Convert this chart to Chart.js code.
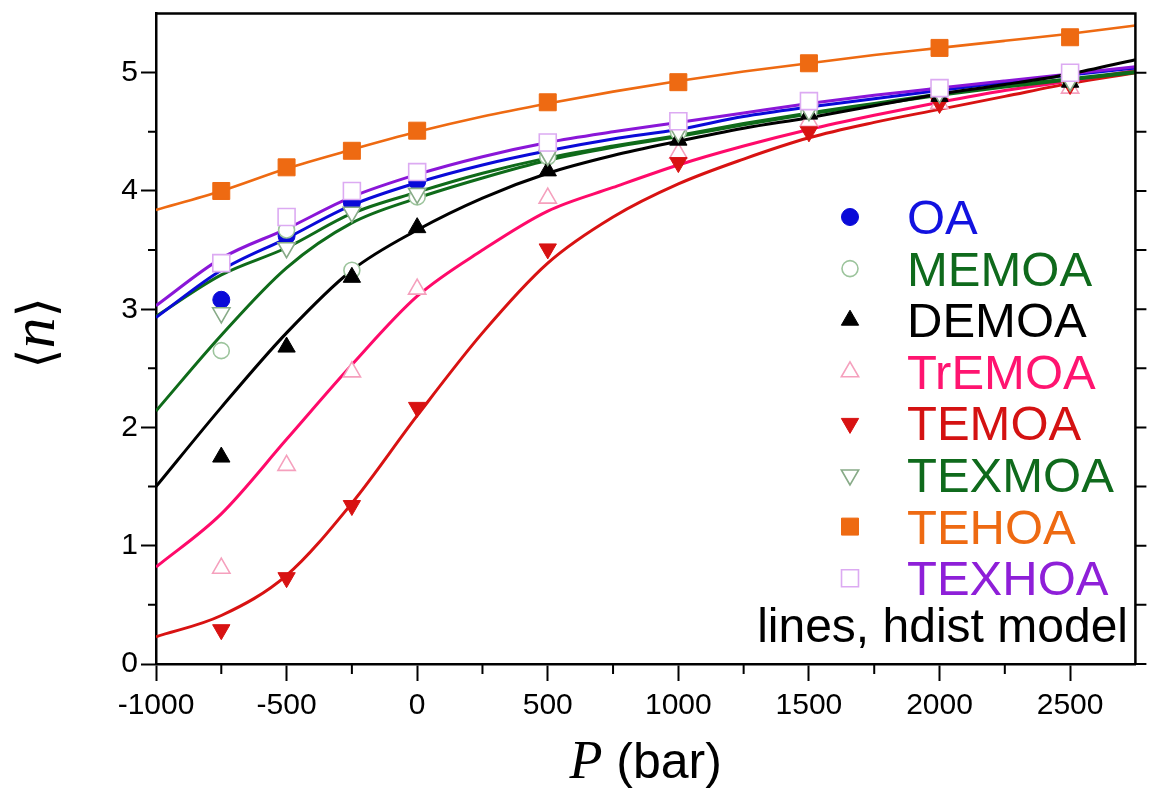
<!DOCTYPE html>
<html>
<head>
<meta charset="utf-8">
<title>Mean hydration number vs pressure</title>
<script src="https://cdn.jsdelivr.net/npm/chart.js@4.4.1/dist/chart.umd.min.js"></script>
<style>
  html, body { margin: 0; padding: 0; background: #fff; }
  #wrap { width: 1149px; height: 788px; }
</style>
</head>
<body>
<div id="wrap"><canvas id="nChart" width="1149" height="788"></canvas></div>
<script>
// pressures (bar) of the simulation points
const P_SIM = [-750, -500, -250, 0, 500, 1000, 1500, 2000, 2500];
// pressures (bar) where the hdist model curves are sampled
const P_MODEL = [-1000, -750, -500, -250, 0, 250, 500, 750, 1000, 1250, 1500, 1750, 2000, 2250, 2500, 2750];

const X_TICKS = [-1000, -500, 0, 500, 1000, 1500, 2000, 2500];
const X_MINOR = [-750, -250, 250, 750, 1250, 1750, 2250];
const Y_TICKS = [0, 1, 2, 3, 4, 5];
const Y_MINOR = [0.5, 1.5, 2.5, 3.5, 4.5];

// simulated <n>
const OA_P = [-750, -500, -250, 0];
const OA_N = [3.08, 3.62, 3.90, 4.08];
const MEMOA_N = [2.65, 3.67, 3.33, 3.95, 4.29, 4.50, 4.67, 4.82, 4.93];
const DEMOA_N = [1.75, 2.68, 3.27, 3.69, 4.17, 4.43, 4.65, 4.80, 4.92];
const TREMOA_N = [0.81, 1.68, 2.47, 3.17, 3.94, 4.32, 4.59, 4.74, 4.87];
const TEMOA_N = [0.29, 0.73, 1.34, 2.17, 3.51, 4.24, 4.50, 4.74, 4.90];
const TEXMOA_N = [2.97, 3.52, 3.82, 3.98, 4.30, 4.50, 4.68, 4.83, 4.93];
const TEHOA_N = [4.00, 4.20, 4.34, 4.51, 4.75, 4.92, 5.08, 5.21, 5.30];
const TEXHOA_N = [3.39, 3.78, 4.00, 4.16, 4.41, 4.59, 4.76, 4.87, 5.00];

// hdist model <n>
const OA_FIT = [2.93, 3.33, 3.60, 3.88, 4.07, 4.22, 4.34, 4.44, 4.52, 4.63, 4.71, 4.78, 4.85, 4.92, 4.98, 5.04];
const MEMOA_FIT = [2.14, 2.78, 3.35, 3.73, 3.94, 4.11, 4.26, 4.37, 4.46, 4.56, 4.65, 4.73, 4.81, 4.88, 4.94, 5.00];
const DEMOA_FIT = [1.50, 2.17, 2.80, 3.33, 3.67, 3.94, 4.15, 4.30, 4.42, 4.53, 4.62, 4.72, 4.82, 4.90, 4.99, 5.11];
const TREMOA_FIT = [0.82, 1.27, 1.90, 2.53, 3.11, 3.50, 3.83, 4.03, 4.22, 4.38, 4.52, 4.64, 4.75, 4.85, 4.93, 5.02];
const TEMOA_FIT = [0.23, 0.41, 0.75, 1.36, 2.10, 2.80, 3.39, 3.78, 4.06, 4.27, 4.45, 4.58, 4.69, 4.80, 4.91, 5.00];
const TEXMOA_FIT = [2.94, 3.29, 3.52, 3.81, 3.99, 4.15, 4.28, 4.38, 4.47, 4.57, 4.66, 4.74, 4.82, 4.89, 4.95, 5.01];
const TEHOA_FIT = [3.84, 4.00, 4.19, 4.35, 4.50, 4.63, 4.74, 4.84, 4.93, 5.01, 5.08, 5.15, 5.21, 5.27, 5.33, 5.40];
const TEXHOA_FIT = [3.03, 3.43, 3.68, 3.95, 4.14, 4.29, 4.41, 4.50, 4.58, 4.66, 4.74, 4.81, 4.87, 4.93, 4.99, 5.05];

const pts = (xs, ys) => xs.map((x, i) => ({ x, y: ys[i] }));

// name, text/line colour, marker style, points, model curve
const SERIES = [
  { name: 'OA',     color: '#1212e0', line: '#0a0ad8', style: 'circle',   rot: 0,   r: 8.5, fill: '#0a0ad8', edge: '#0a0ad8', px: OA_P, n: OA_N, fit: OA_FIT },
  { name: 'MEMOA',  color: '#0f6a1c', line: '#0f6b1a', style: 'circle',   rot: 0,   r: 8,   fill: '#ffffff', edge: '#9cc49c', px: P_SIM, n: MEMOA_N, fit: MEMOA_FIT },
  { name: 'DEMOA',  color: '#000000', line: '#000000', style: 'triangle', rot: 0,   r: 10,  fill: '#000000', edge: '#000000', px: P_SIM, n: DEMOA_N, fit: DEMOA_FIT },
  { name: 'TrEMOA', color: '#ff1470', line: '#ff0a6a', style: 'triangle', rot: 0,   r: 10,  fill: '#ffffff', edge: '#f5a0bd', px: P_SIM, n: TREMOA_N, fit: TREMOA_FIT },
  { name: 'TEMOA',  color: '#d41212', line: '#d81212', style: 'triangle', rot: 180, r: 10,  fill: '#d81212', edge: '#d81212', px: P_SIM, n: TEMOA_N, fit: TEMOA_FIT },
  { name: 'TEXMOA', color: '#0f6a1c', line: '#0f6b1a', style: 'triangle', rot: 180, r: 10,  fill: '#ffffff', edge: '#88ab88', px: P_SIM, n: TEXMOA_N, fit: TEXMOA_FIT },
  { name: 'TEHOA',  color: '#ee6a12', line: '#ee6a12', style: 'rect',     rot: 0,   r: 12,  fill: '#ee6a12', edge: '#ee6a12', px: P_SIM, n: TEHOA_N, fit: TEHOA_FIT },
  { name: 'TEXHOA', color: '#8e1fd8', line: '#8a16d8', style: 'rect',     rot: 0,   r: 12,  fill: '#ffffff', edge: '#dcaaf2', px: P_SIM, n: TEXHOA_N, fit: TEXHOA_FIT }
];

// marker stacking, lowest order drawn on top
const MARK_ORDER = { OA: 8, MEMOA: 7, TrEMOA: 6, TEMOA: 5, DEMOA: 4, TEXMOA: 3, TEHOA: 2, TEXHOA: 1 };
const LINE_ORDER = { TEMOA: 28, TrEMOA: 27, MEMOA: 26, TEXMOA: 25, OA: 24, TEXHOA: 23, DEMOA: 22, TEHOA: 21 };

const datasets = [];
SERIES.forEach(s => {
  datasets.push({
    label: s.name + ' model',
    data: pts(P_MODEL, s.fit),
    showLine: true,
    borderColor: s.line,
    borderWidth: s.name === 'TEHOA' ? 2.6 : 3,
    pointRadius: 0,
    fill: false,
    cubicInterpolationMode: 'monotone',
    order: LINE_ORDER[s.name]
  });
  datasets.push({
    label: s.name,
    data: pts(s.px, s.n),
    showLine: false,
    pointStyle: s.style,
    pointRotation: s.rot,
    pointRadius: s.r,
    pointBackgroundColor: s.fill,
    pointBorderColor: s.edge,
    pointBorderWidth: s.fill === '#ffffff' ? 1.6 : 1,
    order: MARK_ORDER[s.name]
  });
});

const SANS = "'Liberation Sans', Arial, sans-serif";

// frame, minor ticks, axis titles and the legend box
const decorations = {
  id: 'decorations',
  afterDraw(chart) {
    const { ctx, chartArea: a, scales: { x, y } } = chart;
    ctx.save();
    ctx.strokeStyle = '#000';
    ctx.lineWidth = 2.5;
    ctx.beginPath();
    ctx.moveTo(a.left, a.top);
    ctx.lineTo(a.right, a.top);
    ctx.lineTo(a.right, a.bottom);
    ctx.stroke();

    ctx.lineWidth = 2;
    ctx.beginPath();
    X_MINOR.forEach(v => {
      const px = x.getPixelForValue(v);
      ctx.moveTo(px, a.bottom); ctx.lineTo(px, a.bottom + 10);
    });
    Y_MINOR.forEach(v => {
      const py = y.getPixelForValue(v);
      ctx.moveTo(a.left, py); ctx.lineTo(a.left - 8, py);
    });
    Y_TICKS.concat(Y_MINOR).forEach(v => {
      const py = y.getPixelForValue(v);
      ctx.moveTo(a.right, py); ctx.lineTo(a.right + 11, py);
    });
    ctx.stroke();

    // x title: italic P followed by (bar)
    ctx.fillStyle = '#000';
    ctx.textBaseline = 'alphabetic';
    ctx.textAlign = 'left';
    const fP = "italic 54px 'Liberation Serif', 'Times New Roman', serif";
    const fB = '50px ' + SANS;
    ctx.font = fP; const wP = ctx.measureText('P').width;
    ctx.font = fB; const wB = ctx.measureText(' (bar)').width;
    let tx = (a.left + a.right) / 2 - (wP + wB) / 2;
    ctx.font = fP; ctx.fillText('P', tx, 778);
    ctx.font = fB; ctx.fillText(' (bar)', tx + wP, 778);

    // y title: <n>, rotated
    ctx.save();
    ctx.translate(54, 333);
    ctx.rotate(-Math.PI / 2);
    const fBr = "52px 'DejaVu Sans', sans-serif";
    const fN = "italic 62px 'Liberation Serif', 'Times New Roman', serif";
    ctx.font = fBr; const wL = ctx.measureText('\u27E8').width;
    ctx.font = fN; const wN = ctx.measureText('n').width;
    let ty = -(2 * wL + wN) / 2;
    ctx.font = fBr; ctx.fillText('\u27E8', ty, 0);
    ctx.font = fN; ctx.fillText('n', ty + wL, 0);
    ctx.font = fBr; ctx.fillText('\u27E9', ty + wL + wN, 0);
    ctx.restore();

    // legend
    const drawPoint = Chart.helpers && Chart.helpers.drawPoint;
    SERIES.forEach((s, i) => {
      const cy = 217 + i * 51.6;
      ctx.fillStyle = s.fill;
      ctx.strokeStyle = s.edge;
      ctx.lineWidth = s.fill === '#ffffff' ? 1.6 : 1;
      if (drawPoint) {
        drawPoint(ctx, { pointStyle: s.style, rotation: s.rot, radius: s.r, borderWidth: ctx.lineWidth }, 850, cy);
      }
      ctx.fillStyle = s.color;
      ctx.font = '49px ' + SANS;
      ctx.textAlign = 'left';
      ctx.fillText(s.name, 907, cy + 17);
    });
    ctx.fillStyle = '#000';
    ctx.font = '48px ' + SANS;
    ctx.textAlign = 'right';
    ctx.fillText('lines, hdist model', 1128, 642);
    ctx.restore();
  }
};

new Chart(document.getElementById('nChart'), {
  type: 'scatter',
  data: { datasets },
  plugins: [decorations],
  options: {
    responsive: false,
    animation: false,
    devicePixelRatio: 1,
    layout: { padding: { top: 13, right: 11, bottom: 0, left: 0 } },
    plugins: { legend: { display: false }, tooltip: { enabled: false } },
    scales: {
      x: {
        type: 'linear',
        min: -1000,
        max: 2750,
        afterBuildTicks: s => { s.ticks = X_TICKS.map(v => ({ value: v })); },
        afterFit: s => { s.height = 124; s.paddingLeft = 0; s.paddingRight = 0; },
        ticks: { color: '#000', font: { family: SANS, size: 30 }, padding: 7, maxRotation: 0, callback: v => String(v) },
        grid: { display: true, drawOnChartArea: false, drawTicks: true, tickLength: 17, tickWidth: 2, color: '#000' },
        border: { display: true, color: '#000', width: 2.5 }
      },
      y: {
        type: 'linear',
        min: 0,
        max: 5.5,
        afterBuildTicks: s => { s.ticks = Y_TICKS.map(v => ({ value: v })); },
        afterFit: s => { s.width = 156; s.paddingTop = 0; s.paddingBottom = 0; },
        ticks: { color: '#000', font: { family: SANS, size: 30 }, padding: 3, callback: v => String(v) },
        grid: { display: true, drawOnChartArea: false, drawTicks: true, tickLength: 15, tickWidth: 2, color: '#000' },
        border: { display: true, color: '#000', width: 2.5 }
      }
    }
  }
});
</script>
</body>
</html>
